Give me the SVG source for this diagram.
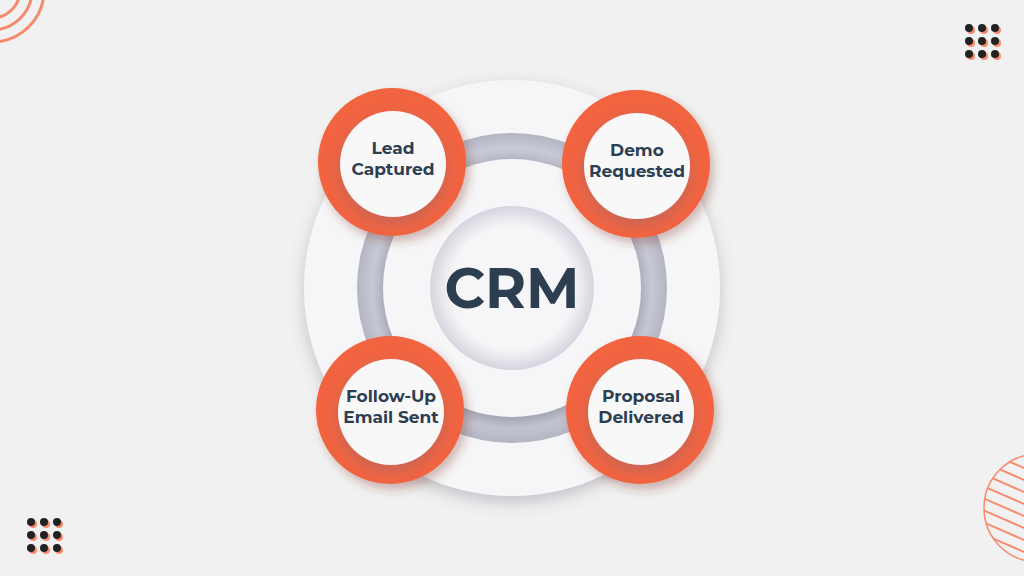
<svg xmlns="http://www.w3.org/2000/svg" width="1024" height="576" viewBox="0 0 1024 576">
<defs>
<style>
.t{font-family:Montserrat,"Open Sans","Liberation Sans",sans-serif;font-weight:700;fill:#2c3e50;text-anchor:middle}
.n{font-size:17px}
.or{fill:#f26440}
.wh{fill:#f8f8f9}
.deco{fill:none;stroke:#f78a6c;stroke-width:3}
</style>
<filter id="sh" x="-30%" y="-30%" width="160%" height="160%"><feDropShadow dx="0" dy="6" stdDeviation="8" flood-color="#6a6a80" flood-opacity="0.35"/></filter>
<filter id="sh2" x="-30%" y="-30%" width="160%" height="160%"><feDropShadow dx="4" dy="6" stdDeviation="5" flood-color="#7a3020" flood-opacity="0.3"/></filter>
<radialGradient id="gr"><stop offset="0.82" stop-color="#b9bac8"/><stop offset="0.9" stop-color="#c9cad6"/><stop offset="1" stop-color="#b4b5c4"/></radialGradient>
<radialGradient id="ctr"><stop offset="0.75" stop-color="#f6f6f8"/><stop offset="1" stop-color="#d4d5de"/></radialGradient>
<clipPath id="cc"><circle cx="1038" cy="508" r="54"/></clipPath>
</defs>
<rect width="1024" height="576" fill="#f1f1f1"/>
<g id="decor">
<circle class="deco" cx="-8" cy="-10" r="28"/>
<circle class="deco" cx="-8" cy="-10" r="40"/>
<circle class="deco" cx="-8" cy="-10" r="52"/>
<g fill="#f78a6c">
<circle cx="971" cy="30" r="4"/><circle cx="984" cy="30" r="4"/><circle cx="997" cy="30" r="4"/>
<circle cx="971" cy="43" r="4"/><circle cx="984" cy="43" r="4"/><circle cx="997" cy="43" r="4"/>
<circle cx="971" cy="56" r="4"/><circle cx="984" cy="56" r="4"/><circle cx="997" cy="56" r="4"/>
<circle cx="33" cy="524" r="4"/><circle cx="46" cy="524" r="4"/><circle cx="59" cy="524" r="4"/>
<circle cx="33" cy="537" r="4"/><circle cx="46" cy="537" r="4"/><circle cx="59" cy="537" r="4"/>
<circle cx="33" cy="550" r="4"/><circle cx="46" cy="550" r="4"/><circle cx="59" cy="550" r="4"/>
</g>
<g fill="#222">
<circle cx="969" cy="28" r="4"/><circle cx="982" cy="28" r="4"/><circle cx="995" cy="28" r="4"/>
<circle cx="969" cy="41" r="4"/><circle cx="982" cy="41" r="4"/><circle cx="995" cy="41" r="4"/>
<circle cx="969" cy="54" r="4"/><circle cx="982" cy="54" r="4"/><circle cx="995" cy="54" r="4"/>
<circle cx="31" cy="522" r="4"/><circle cx="44" cy="522" r="4"/><circle cx="57" cy="522" r="4"/>
<circle cx="31" cy="535" r="4"/><circle cx="44" cy="535" r="4"/><circle cx="57" cy="535" r="4"/>
<circle cx="31" cy="548" r="4"/><circle cx="44" cy="548" r="4"/><circle cx="57" cy="548" r="4"/>
</g>
<circle cx="1038" cy="508" r="54" fill="none" stroke="#f78a6c" stroke-width="1.5"/>
<g clip-path="url(#cc)" stroke="#f78a6c" stroke-width="2">
<line x1="960" y1="440" x2="1040" y2="475"/><line x1="960" y1="452" x2="1040" y2="487"/><line x1="960" y1="464" x2="1040" y2="499"/><line x1="960" y1="476" x2="1040" y2="511"/><line x1="960" y1="488" x2="1040" y2="523"/><line x1="960" y1="500" x2="1040" y2="535"/><line x1="960" y1="512" x2="1040" y2="547"/><line x1="960" y1="524" x2="1040" y2="559"/><line x1="960" y1="536" x2="1040" y2="571"/><line x1="960" y1="548" x2="1040" y2="583"/>
</g>
</g>
<g id="hub">
<circle cx="512" cy="288" r="208" fill="#f6f6f8" filter="url(#sh)"/>
<circle cx="512" cy="288" r="155" fill="url(#gr)"/>
<circle cx="512" cy="288" r="129" fill="#f6f6f8" filter="url(#sh)"/>
<circle cx="512" cy="288" r="82" fill="url(#ctr)"/>
<text class="t" x="512" y="308" font-size="56">CRM</text>
</g>
<g id="n1"><circle class="or" cx="392" cy="162" r="74" filter="url(#sh2)"/><circle class="wh" cx="393" cy="164" r="53" filter="url(#sh)"/><text class="t n" x="393" y="154">Lead</text><text class="t n" x="393" y="175">Captured</text></g>
<g id="n2"><circle class="or" cx="636" cy="164" r="74" filter="url(#sh2)"/><circle class="wh" cx="637" cy="166" r="53" filter="url(#sh)"/><text class="t n" x="637" y="156">Demo</text><text class="t n" x="637" y="177">Requested</text></g>
<g id="n3"><circle class="or" cx="390" cy="410" r="74" filter="url(#sh2)"/><circle class="wh" cx="391" cy="412" r="53" filter="url(#sh)"/><text class="t n" x="391" y="402">Follow-Up</text><text class="t n" x="391" y="423">Email Sent</text></g>
<g id="n4"><circle class="or" cx="640" cy="410" r="74" filter="url(#sh2)"/><circle class="wh" cx="641" cy="412" r="53" filter="url(#sh)"/><text class="t n" x="641" y="402">Proposal</text><text class="t n" x="641" y="423">Delivered</text></g>
<g id="connectors"/>
</svg>
